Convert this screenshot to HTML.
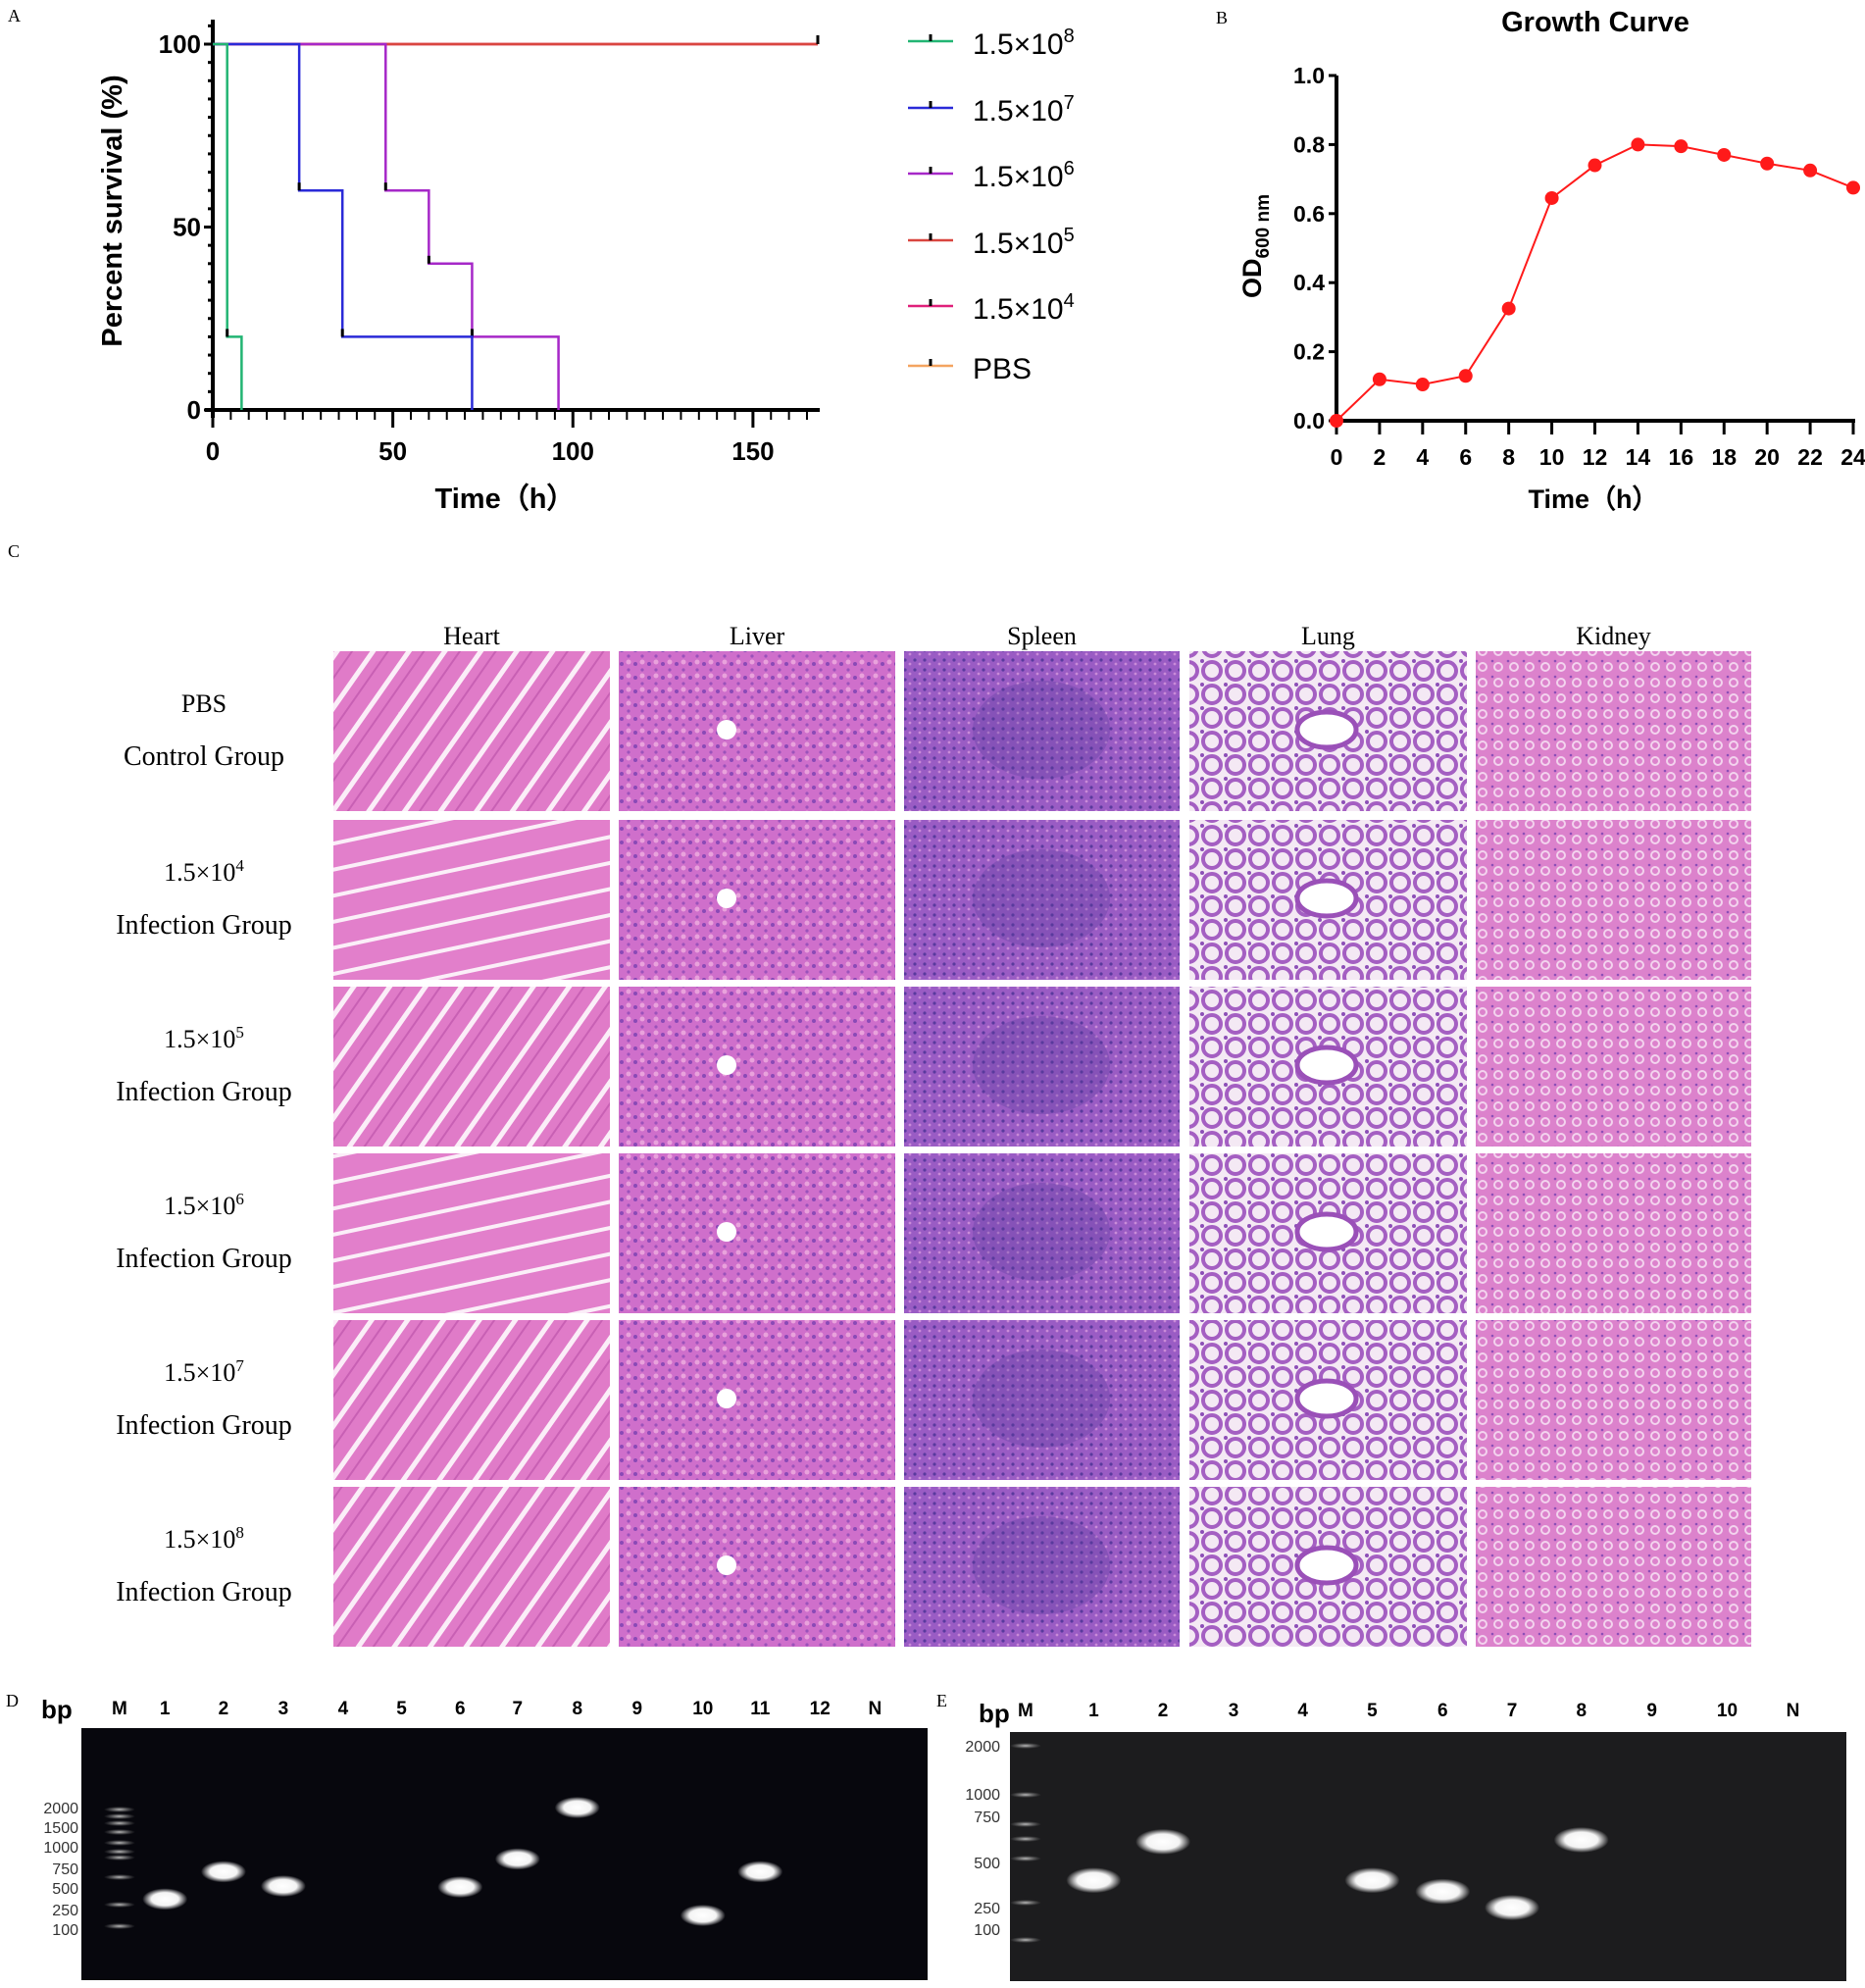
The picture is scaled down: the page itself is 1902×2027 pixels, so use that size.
<!DOCTYPE html>
<html><head><meta charset="utf-8"><style>
html,body{margin:0;padding:0;background:#fff}
svg{display:block}
text{font-family:"Liberation Sans",sans-serif}
.serif{font-family:"Liberation Serif",serif}
</style></head><body>
<svg id="fig" width="1902" height="2027" viewBox="0 0 1902 2027" xmlns="http://www.w3.org/2000/svg">
<defs>
<pattern id="heart" width="30" height="30" patternUnits="userSpaceOnUse" patternTransform="rotate(-55)"><rect width="30" height="30" fill="#e07bc8"/><rect y="0" width="30" height="5" fill="#fbeef8"/><rect y="14" width="30" height="2" fill="#c860b4"/></pattern>
<pattern id="heart2" width="26" height="26" patternUnits="userSpaceOnUse" patternTransform="rotate(-12)"><rect width="26" height="26" fill="#e27fcb"/><rect width="26" height="4" fill="#fbeef8"/></pattern>
<pattern id="liver" width="14" height="14" patternUnits="userSpaceOnUse"><rect width="14" height="14" fill="#cf6fcb"/><circle cx="4" cy="5" r="2" fill="#8a49b6"/><circle cx="11" cy="11" r="1.6" fill="#9a52ba"/><circle cx="11" cy="3" r="2.5" fill="#e9a2dc"/></pattern>
<pattern id="spleen" width="10" height="10" patternUnits="userSpaceOnUse"><rect width="10" height="10" fill="#9a5cc4"/><circle cx="3" cy="3" r="1.6" fill="#5a3a9e"/><circle cx="8" cy="7" r="1.4" fill="#c98bd8"/></pattern>
<pattern id="lung" width="24" height="24" patternUnits="userSpaceOnUse"><rect width="24" height="24" fill="#f4e9f4"/><circle cx="12" cy="12" r="9" fill="none" stroke="#a45fc2" stroke-width="4"/><circle cx="2" cy="2" r="2" fill="#8c4fb7"/></pattern>
<pattern id="kidney" width="16" height="16" patternUnits="userSpaceOnUse"><rect width="16" height="16" fill="#dc82cc"/><circle cx="8" cy="8" r="4" fill="none" stroke="#f3d3ee" stroke-width="2"/><circle cx="2" cy="2" r="1.3" fill="#8c4fb7"/></pattern>
<radialGradient id="band" cx="50%" cy="50%" r="50%"><stop offset="0" stop-color="#fff"/><stop offset="0.6" stop-color="#f4f4f4"/><stop offset="1" stop-color="#fff" stop-opacity="0"/></radialGradient>
<radialGradient id="lad" cx="50%" cy="50%" r="50%"><stop offset="0" stop-color="#bbb"/><stop offset="1" stop-color="#888" stop-opacity="0"/></radialGradient>
</defs>

<text class="serif" x="8" y="22" font-size="18">A</text>
<text class="serif" x="1240" y="24" font-size="18">B</text>
<text class="serif" x="8" y="568" font-size="18">C</text>
<text class="serif" x="6" y="1740" font-size="18">D</text>
<text class="serif" x="955" y="1740" font-size="18">E</text>

<g id="panelA"></g>
<g id="panelB"></g>
<g id="panelC"></g>
<g id="panelD"></g>
<g id="panelE"></g>
</svg>
<script>
// ---------- Panel A data ----------
const survNames = ["1.5×10⁸","1.5×10⁷","1.5×10⁶","1.5×10⁵","1.5×10⁴","PBS"];
const survExp = ["8","7","6","5","4",""];
const survColors = ["#22b573","#2a2ad8","#a628c8","#d9453f","#e0207a","#f4a460"];
const survTimes = [[0,4,8],[0,24,36,72],[0,48,60,72,96],[0,168],[0,168],[0,168]];
const survVals = [[100,20,0],[100,60,20,0],[100,60,40,20,0],[100,100],[100,100],[100,100]];
const survXTicks = [0,50,100,150];
const survYTicks = [0,50,100];
// ---------- Panel B data ----------
const growthTimes = [0,2,4,6,8,10,12,14,16,18,20,22,24];
const growthOD = [0.0,0.12,0.105,0.13,0.325,0.645,0.74,0.80,0.795,0.77,0.745,0.725,0.675];
const growthYTicks = [0.0,0.2,0.4,0.6,0.8,1.0];
// ---------- Panel D/E data ----------
const gelDLanes = ["M","1","2","3","4","5","6","7","8","9","10","11","12","N"];
const gelDLadder = ["2000","1500","1000","750","500","250","100"];
const gelDBandLanes = [1,2,3,6,7,8,10,11];
const gelDBandBp = [350,700,520,510,850,2000,190,700];
const gelELanes = ["M","1","2","3","4","5","6","7","8","9","10","N"];
const gelELadder = ["2000","1000","750","500","250","100"];
const gelEBandLanes = [1,2,5,6,7,8];
const gelEBandBp = [380,600,380,320,250,610];

const NS="http://www.w3.org/2000/svg";
function mk(parent,tag,attrs,txt){const e=document.createElementNS(NS,tag);for(const k in attrs)e.setAttribute(k,attrs[k]);if(txt!==undefined)e.textContent=txt;parent.appendChild(e);return e;}

// ===== Panel A =====
(function(){
const g=document.getElementById('panelA');
const X0=217,X1=834,Y0=418,Y1=45;
const sx=t=>X0+t*(X1-X0)/168, sy=v=>Y0-(v/100)*(Y0-Y1);
let ax=mk(g,'line',{x1:X0,y1:Y1-25,x2:X0,y2:Y0+8,stroke:'#000','stroke-width':4});

ax=mk(g,'line',{x1:X0-8,y1:Y0,x2:X1+2,y2:Y0,stroke:'#000','stroke-width':4});

for(let v=0;v<=105;v+=5){const e=mk(g,'line',{x1:X0-(v%50==0?9:5),y1:sy(v),x2:X0,y2:sy(v),stroke:'#000','stroke-width':3});}
for(let t=0;t<=168;t+=5){const big=t%50==0;const e=mk(g,'line',{x1:sx(t),y1:Y0,x2:sx(t),y2:Y0+(big?18:10),stroke:'#000','stroke-width':big?3:2});}
survYTicks.forEach(v=>{const e=mk(g,'text',{x:X0-12,y:sy(v)+9,'font-size':26,'font-weight':'bold','text-anchor':'end'},String(v));});
survXTicks.forEach(v=>{const e=mk(g,'text',{x:sx(v),y:469,'font-size':26,'font-weight':'bold','text-anchor':'middle'},String(v));});
let t=mk(g,'text',{x:515,y:518,'font-size':29,'font-weight':'bold','text-anchor':'middle'},'Time（h）');
t=mk(g,'text',{x:0,y:0,'font-size':29,'font-weight':'bold','text-anchor':'middle',transform:'translate(124,215) rotate(-90)'},'Percent survival (%)');
for(let i=survTimes.length-1;i>=0;i--){
 const ts=survTimes[i],vs=survVals[i];let d='M'+sx(ts[0])+','+sy(vs[0]);
 for(let k=1;k<ts.length;k++){d+=' H'+sx(ts[k])+' V'+sy(vs[k]);}
 const p=mk(g,'path',{d:d,fill:'none',stroke:survColors[i],'stroke-width':2.5});
 
 for(let k=1;k<ts.length;k++){if(vs[k]>0&&vs[k]<100){const c=mk(g,'line',{x1:sx(ts[k]),y1:sy(vs[k]),x2:sx(ts[k]),y2:sy(vs[k])-8,stroke:'#000','stroke-width':3});}}
}
const cm=mk(g,'line',{x1:sx(168),y1:sy(100),x2:sx(168),y2:sy(100)-9,stroke:'#000','stroke-width':3});
const ly=[42,110,177,245,312,373];
survNames.forEach((n,i)=>{
 const lg=mk(g,'g',{});
 mk(lg,'line',{x1:926,y1:ly[i],x2:972,y2:ly[i],stroke:survColors[i],'stroke-width':2.5});
 mk(lg,'line',{x1:949,y1:ly[i],x2:949,y2:ly[i]-7,stroke:'#000','stroke-width':3});
 const tx=mk(lg,'text',{x:992,y:ly[i]+13,'font-size':30});
 if(survExp[i]){tx.appendChild(document.createTextNode('1.5×10'));mk(tx,'tspan',{dy:-12,'font-size':20},survExp[i]);}
 else tx.textContent=n;
});
})();

// ===== Panel B =====
(function(){
const g=document.getElementById('panelB');
const X0=1363,X1=1890,Y0=429,Y1=77;
const sx=t=>X0+t*(X1-X0)/24, sy=v=>Y0-v*(Y0-Y1);
let t=mk(g,'text',{x:1627,y:32,'font-size':29,'font-weight':'bold','text-anchor':'middle'},'Growth Curve');
let a=mk(g,'line',{x1:X0,y1:Y1,x2:X0,y2:Y0+2,stroke:'#000','stroke-width':4});
a=mk(g,'line',{x1:X0-2,y1:Y0,x2:X1+2,y2:Y0,stroke:'#000','stroke-width':4});
growthYTicks.forEach(v=>{let e=mk(g,'line',{x1:X0-8,y1:sy(v),x2:X0,y2:sy(v),stroke:'#000','stroke-width':3});
 e=mk(g,'text',{x:X0-12,y:sy(v)+8,'font-size':23,'font-weight':'bold','text-anchor':'end'},v.toFixed(1));});
growthTimes.forEach(v=>{let e=mk(g,'line',{x1:sx(v),y1:Y0,x2:sx(v),y2:Y0+14,stroke:'#000','stroke-width':3});
 e=mk(g,'text',{x:sx(v),y:474,'font-size':23,'font-weight':'bold','text-anchor':'middle'},String(v));});
t=mk(g,'text',{x:1625,y:518,'font-size':27,'font-weight':'bold','text-anchor':'middle'},'Time（h）');
t=mk(g,'text',{x:0,y:0,'font-size':27,'font-weight':'bold','text-anchor':'middle',transform:'translate(1286,251) rotate(-90)'});
t.appendChild(document.createTextNode('OD'));mk(t,'tspan',{dy:8,'font-size':19},'600 nm');

const pts=growthTimes.map((x,i)=>sx(x)+','+sy(growthOD[i])).join(' ');
const pl=mk(g,'polyline',{points:pts,fill:'none',stroke:'#ff1a1a','stroke-width':2});
growthTimes.forEach((x,i)=>{const c=mk(g,'circle',{cx:sx(x),cy:sy(growthOD[i]),r:7,fill:'#ff1a1a'});});
})();

// ===== Panel C =====
(function(){
const g=document.getElementById('panelC');
const cols=["Heart","Liver","Spleen","Lung","Kidney"];
const colX=[340,631,922,1213,1505],colW=[282,282,281,283,281];
const rowY=[664,836,1006,1176,1346,1516],rowH=163;
const rowL1=["PBS","1.5×10","1.5×10","1.5×10","1.5×10","1.5×10"];
const rowExp=["","4","5","6","7","8"];
const rowL2=["Control Group","Infection Group","Infection Group","Infection Group","Infection Group","Infection Group"];
const pats=["heart","liver","spleen","lung","kidney"];
cols.forEach((c,i)=>{const e=mk(g,'text',{x:colX[i]+colW[i]/2,y:657,'font-size':26,'text-anchor':'middle',class:'serif'},c);});
rowY.forEach((y,r)=>{
 const t1=mk(g,'text',{x:208,y:y+62,'font-size':26,'text-anchor':'middle',class:'serif'});
 t1.appendChild(document.createTextNode(rowL1[r]));if(rowExp[r])mk(t1,'tspan',{dy:-10,'font-size':17},rowExp[r]);
 
 const t2=mk(g,'text',{x:208,y:y+116,'font-size':28,'text-anchor':'middle',class:'serif'},rowL2[r]);
 
 cols.forEach((c,i)=>{
  const cell=mk(g,'g',{});
  const p=(i==0&&(r==1||r==3))?'heart2':pats[i];
  mk(cell,'rect',{x:colX[i],y:y,width:colW[i],height:rowH,fill:'url(#'+p+')'});
  if(i==2){mk(cell,'ellipse',{cx:colX[i]+140,cy:y+80,rx:70,ry:50,fill:'#5b3a9c',opacity:0.3});}
  if(i==1){mk(cell,'circle',{cx:colX[i]+110,cy:y+80,r:10,fill:'#fff'});}
  if(i==3){mk(cell,'ellipse',{cx:colX[i]+140,cy:y+80,rx:30,ry:18,fill:'#fff',stroke:'#9a50b8','stroke-width':5});}
 });
});
})();

// ===== Gels =====
function gel(gid,box,bg,lanes,laneX,labelY,ladderLbl,ladderLblY,lblX,ladderX,ladderBandY,bandLanes,bandBp,bpToY,bandW,bandH,bpPos){
 const g=document.getElementById(gid);
 const r=mk(g,'rect',{x:box[0],y:box[1],width:box[2],height:box[3],fill:bg});
 let t=mk(g,'text',{x:bpPos[0],y:bpPos[1],'font-size':26,'font-weight':'bold'},'bp');
 lanes.forEach((l,i)=>{const e=mk(g,'text',{x:laneX[i],y:labelY,'font-size':19,'font-weight':'bold','text-anchor':'middle'},l);});
 ladderLbl.forEach((l,i)=>{const e=mk(g,'text',{x:lblX,y:ladderLblY[i]+6,'font-size':16,'text-anchor':'end',fill:'#333'},l);});
 ladderBandY.forEach(y=>{const e=mk(g,'rect',{x:ladderX-16,y:y-3,width:32,height:6,fill:'url(#lad)'});});
 bandLanes.forEach((ln,i)=>{const y=bpToY(bandBp[i]);const e=mk(g,'ellipse',{cx:laneX[ln],cy:y,rx:bandW/2,ry:bandH/2,fill:'url(#band)'});});
}
function pieceMap(bps,ys){return bp=>{if(bp>=bps[0])return ys[0];for(let i=0;i<bps.length-1;i++){if(bp<=bps[i]&&bp>=bps[i+1]){const f=(Math.log10(bps[i])-Math.log10(bp))/(Math.log10(bps[i])-Math.log10(bps[i+1]));return ys[i]+f*(ys[i+1]-ys[i]);}}return ys[ys.length-1];};}
(function(){
 const laneZ=[100,138,187,237,287,336,385,433,483,533,588,636,686,732];
 const laneX=laneZ.map(z=>z*1.219);
 const lblY=[1843,1863,1883,1905,1925,1947,1967];
 const bpToY=pieceMap(gelDLadder.map(Number),lblY);
 const ladBand=[1845,1852,1859,1868,1879,1888,1894,1914,1942,1964];
 gel('panelD',[83,1762,863,257],'#07070d',gelDLanes,laneX,1748,gelDLadder,lblY,80,laneX[0],ladBand,gelDBandLanes,gelDBandBp,bpToY,46,22,[42,1752]);
})();
(function(){
 const laneZ=[858,915,973,1032,1090,1148,1207,1265,1323,1382,1445,1500];
 const laneX=laneZ.map(z=>z*1.219);
 const lblY=[1780,1829,1852,1899,1945,1967];
 const bpToY=pieceMap(gelELadder.map(Number),lblY);
 const ladBand=[1780,1830,1860,1875,1895,1940,1978];
 gel('panelE',[1030,1766,853,254],'#1c1c1e',gelELanes,laneX,1750,gelELadder,lblY,1020,laneX[0],ladBand,gelEBandLanes,gelEBandBp,bpToY,56,26,[998,1756]);
})();
</script>
</body></html>
